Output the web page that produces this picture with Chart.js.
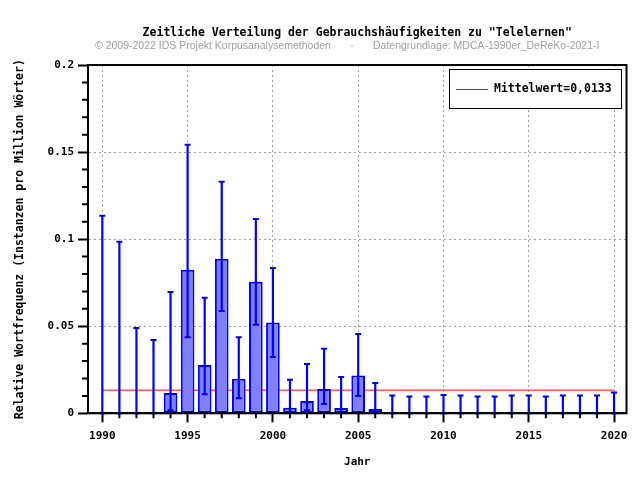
<!DOCTYPE html>
<html>
<head>
<meta charset="utf-8">
<script src="https://cdn.jsdelivr.net/npm/chart.js@4/dist/chart.umd.min.js"></script>
<style>
html,body{margin:0;padding:0;background:#ffffff;}
#wrap{width:640px;height:480px;}
</style>
</head>
<body>
<div id="wrap"><canvas id="c" width="640" height="480"></canvas></div>
<script>
// ---- data ----
const years = [1990,1991,1992,1993,1994,1995,1996,1997,1998,1999,2000,2001,2002,2003,2004,2005,2006,2007,2008,2009,2010,2011,2012,2013,2014,2015,2016,2017,2018,2019,2020];
const relFreq = [0,0,0,0,0.0117,0.0824,0.0278,0.0887,0.0199,0.0755,0.0521,0.0032,0.0071,0.0140,0.0031,0.0217,0.0025,0,0,0,0,0,0,0,0,0,0,0,0,0,0];
const errLower = [0,0,0,0,0.0017,0.0437,0.0109,0.0588,0.0086,0.0508,0.0324,0.0004,0.0017,0.0054,0.0003,0.0099,0.0003,0,0,0,0,0,0,0,0,0,0,0,0,0,0];
const errUpper = [0.1134,0.0985,0.0490,0.0421,0.0697,0.1542,0.0663,0.1330,0.0437,0.1115,0.0835,0.0192,0.0283,0.0370,0.0209,0.0456,0.0174,0.0102,0.0096,0.0096,0.0105,0.0102,0.0096,0.0096,0.0102,0.0102,0.0096,0.0102,0.0102,0.0102,0.0119];
const meanValue = 0.0133;
const meanLabel = 'Mittelwert=0,0133';
const xTickValues = [1990,1995,2000,2005,2010,2015,2020];
const xTickLabels = ['1990','1995','2000','2005','2010','2015','2020'];
const yTickValues = [0,0.05,0.1,0.15,0.2];
const yTickLabels = ['0','0.05','0.1','0.15','0.2'];
const yMinorStep = 0.01;
const titleText = 'Zeitliche Verteilung der Gebrauchshäufigkeiten zu "Telelernen"';
const subtitleLeft = '\u00A9 2009-2022 IDS Projekt Korpusanalysemethoden';
const subtitleDot = '\u00B7';
const subtitleRight = 'Datengrundlage: MDCA-1990er_DeReKo-2021-I';
const xTitle = 'Jahr';
const yTitle = 'Relative Wortfrequenz (Instanzen pro Million W\u00F6rter)';

// ---- helpers ----
const MONO = '"DejaVu Sans Mono", monospace';
const near = (a, b) => Math.abs(a - b) < 1e-9;
const isMajorX = v => xTickValues.some(t => near(t, v));
const isMajorY = v => yTickValues.some(t => near(t, v));
const gridGray = '#a0a0a0';

const decorPlugin = {
  id: 'decor',
  afterDatasetsDraw(chart) {
    const {ctx, chartArea: ca, scales: {x, y}} = chart;
    ctx.save();
    // error bars
    ctx.strokeStyle = '#0000ff';
    years.forEach((yr, i) => {
      const px = x.getPixelForValue(yr);
      const pl = y.getPixelForValue(errLower[i]);
      const ph = y.getPixelForValue(errUpper[i]);
      ctx.lineWidth = 2.2;
      ctx.beginPath(); ctx.moveTo(px, pl); ctx.lineTo(px, ph); ctx.stroke();
      ctx.lineWidth = 2;
      ctx.beginPath();
      ctx.moveTo(px - 3, ph); ctx.lineTo(px + 3, ph);
      ctx.moveTo(px - 3, pl); ctx.lineTo(px + 3, pl);
      ctx.stroke();
    });
    // frame
    ctx.strokeStyle = '#000';
    ctx.lineWidth = 2;
    ctx.strokeRect(ca.left, ca.top, ca.right - ca.left, ca.bottom - ca.top);
    // minor ticks
    ctx.lineWidth = 2;
    ctx.beginPath();
    years.forEach(yr => {
      if (!isMajorX(yr)) {
        const px = x.getPixelForValue(yr);
        ctx.moveTo(px, ca.bottom); ctx.lineTo(px, ca.bottom + 5);
      }
    });
    y.ticks.forEach(t => {
      if (!isMajorY(t.value)) {
        const py = y.getPixelForValue(t.value);
        ctx.moveTo(ca.left - 6, py); ctx.lineTo(ca.left, py);
      }
    });
    ctx.stroke();
    // legend (drawn from the mean dataset)
    const ds = chart.data.datasets[1];
    const bw = 172, bh = 39;
    const bx = Math.round(ca.right - 6 - bw), by = Math.round(ca.top + 4);
    ctx.fillStyle = '#fff';
    ctx.fillRect(bx, by, bw, bh);
    ctx.strokeStyle = '#000';
    ctx.lineWidth = 1;
    ctx.strokeRect(bx + 0.5, by + 0.5, bw, bh);
    ctx.strokeStyle = ds.borderColor;
    ctx.lineWidth = 1;
    ctx.beginPath();
    ctx.moveTo(bx + 7, by + Math.round(bh / 2) + 0.5);
    ctx.lineTo(bx + 39, by + Math.round(bh / 2) + 0.5);
    ctx.stroke();
    ctx.fillStyle = '#000';
    ctx.font = 'bold 11.5px ' + MONO;
    ctx.textAlign = 'left';
    ctx.textBaseline = 'middle';
    ctx.fillText(ds.label, bx + 45, by + bh / 2 + 1);
    // titles
    const cx = (ca.left + ca.right) / 2;
    ctx.textAlign = 'center';
    ctx.font = 'bold 11.5px ' + MONO;
    ctx.fillText(titleText, cx, 33);
    ctx.fillStyle = '#a0a0a0';
    ctx.font = '10.5px "Liberation Sans", Arial, sans-serif';
    ctx.textAlign = 'left';
    ctx.fillText(subtitleLeft, 95, 46);
    ctx.textAlign = 'center';
    ctx.fillText(subtitleDot, 352, 46);
    ctx.textAlign = 'left';
    ctx.fillText(subtitleRight, 373, 46);
    ctx.restore();
  }
};

const chart = new Chart(document.getElementById('c'), {
  type: 'bar',
  data: {
    datasets: [
      {
        type: 'bar',
        label: 'Relative Wortfrequenz',
        data: years.map((yr, i) => ({x: yr, y: relFreq[i]})),
        backgroundColor: '#8080ff',
        borderColor: '#0000ff',
        borderWidth: ctx => (ctx.raw && ctx.raw.y > 0) ? 2 : 0,
        borderSkipped: false,
        barPercentage: 0.8,
        categoryPercentage: 1.0,
        order: 1
      },
      {
        type: 'line',
        label: meanLabel,
        data: [{x: years[0], y: meanValue}, {x: years[years.length - 1], y: meanValue}],
        borderColor: '#ff0000',
        borderWidth: 1,
        pointRadius: 0,
        fill: false,
        order: 2
      }
    ]
  },
  options: {
    responsive: false,
    devicePixelRatio: 1,
    animation: false,
    layout: {padding: {top: 65, right: 13.5, left: 0, bottom: 0}},
    plugins: {
      legend: {display: false},
      title: {display: false},
      tooltip: {enabled: false}
    },
    scales: {
      x: {
        type: 'linear',
        offset: false,
        min: 1989.16,
        max: 2020.73,
        afterFit: s => { s.height = 66.7; },
        afterBuildTicks: s => { s.ticks = years.map(v => ({value: v})); },
        ticks: {
          autoSkip: false,
          maxRotation: 0,
          padding: 7,
          color: '#000',
          font: {family: MONO, weight: 'bold', size: 11},
          callback: v => { const i = xTickValues.findIndex(t => near(t, v)); return i >= 0 ? xTickLabels[i] : ''; }
        },
        grid: {
          offset: false,
          color: c => (c.tick && isMajorX(c.tick.value)) ? gridGray : 'rgba(0,0,0,0)',
          lineWidth: 1,
          drawTicks: true,
          tickLength: 9,
          tickWidth: 2,
          tickColor: c => (c.tick && isMajorX(c.tick.value)) ? '#000' : 'rgba(0,0,0,0)',
          tickBorderDash: []
        },
        border: {display: true, color: '#000', width: 2, dash: [2, 3]},
        title: {display: true, text: xTitle, color: '#000', font: {family: MONO, weight: 'bold', size: 11}, padding: {top: 0, bottom: 11}}
      },
      y: {
        type: 'linear',
        min: 0,
        max: 0.2,
        afterFit: s => { s.width = 88; },
        afterBuildTicks: s => {
          const t = [];
          for (let i = 0; i <= Math.round(0.2 / yMinorStep); i++) t.push({value: Math.round(i * yMinorStep * 1000) / 1000});
          s.ticks = t;
        },
        ticks: {
          autoSkip: false,
          padding: 4,
          color: '#000',
          font: {family: MONO, weight: 'bold', size: 11},
          callback: v => { const i = yTickValues.findIndex(t => near(t, v)); return i >= 0 ? yTickLabels[i] : ''; }
        },
        grid: {
          color: c => (c.tick && isMajorY(c.tick.value) && c.tick.value > 0 && c.tick.value < 0.2) ? gridGray : 'rgba(0,0,0,0)',
          lineWidth: 1,
          drawTicks: true,
          tickLength: 10,
          tickWidth: 2,
          tickColor: c => (c.tick && isMajorY(c.tick.value)) ? '#000' : 'rgba(0,0,0,0)',
          tickBorderDash: []
        },
        border: {display: true, color: '#000', width: 2, dash: [2, 3]},
        title: {display: true, text: yTitle, color: '#000', font: {family: MONO, weight: 'bold', size: 11.5}, padding: {top: 13, bottom: 0}}
      }
    }
  },
  plugins: [decorPlugin]
});
</script>
</body>
</html>
